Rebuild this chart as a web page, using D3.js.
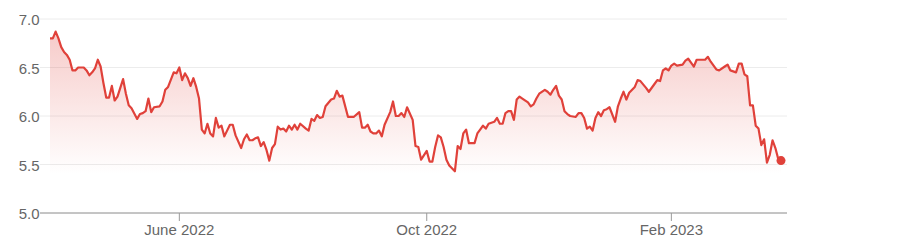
<!DOCTYPE html>
<html>
<head>
<meta charset="utf-8">
<script src="https://cdn.jsdelivr.net/npm/d3@7"></script>
<style>
  html, body { margin: 0; padding: 0; background: #fff; }
  svg { display: block; font-family: "Liberation Sans", Arial, Helvetica, sans-serif; }
</style>
</head>
<body>
<svg id="chart" width="904" height="250"></svg>
<script>
// Week start (Monday) for each row of daily closes (Mon..Fri); null = not read
const weekStarts = [
  "2022-03-28","2022-04-04","2022-04-11","2022-04-18","2022-04-25","2022-05-02","2022-05-09","2022-05-16",
  "2022-05-23","2022-05-30","2022-06-06","2022-06-13","2022-06-20","2022-06-27","2022-07-04","2022-07-11",
  "2022-07-18","2022-07-25","2022-08-01","2022-08-08","2022-08-15","2022-08-22","2022-08-29","2022-09-05",
  "2022-09-12","2022-09-19","2022-09-26","2022-10-03","2022-10-10","2022-10-17","2022-10-24","2022-10-31",
  "2022-11-07","2022-11-14","2022-11-21","2022-11-28","2022-12-05","2022-12-12","2022-12-19","2022-12-26",
  "2023-01-02","2023-01-09","2023-01-16","2023-01-23","2023-01-30","2023-02-06","2023-02-13","2023-02-20",
  "2023-02-27","2023-03-06","2023-03-13","2023-03-20","2023-03-27"
];
const closes = [
  [null,6.80,6.80,6.87,6.80],
  [6.71,6.66,6.63,6.58,6.47],
  [6.47,6.50,null,6.50,6.47],
  [6.42,6.45,6.49,6.58,6.51],
  [6.34,6.19,6.19,6.31,6.16],
  [6.20,6.29,6.38,6.23,6.11],
  [6.08,null,5.97,6.02,6.03],
  [6.05,6.18,6.04,6.09,null],
  [6.10,6.15,6.27,6.30,null],
  [6.45,6.44,6.50,6.37,6.44],
  [6.39,6.31,6.39,6.30,6.18],
  [5.86,5.82,5.92,5.82,5.79],
  [5.98,5.88,5.90,5.79,null],
  [5.91,5.91,5.80,null,5.67],
  [5.76,5.81,5.75,5.75,5.77],
  [5.78,5.69,5.73,5.65,5.54],
  [5.67,5.71,5.89,5.86,5.87],
  [5.84,5.90,5.86,5.91,5.86],
  [5.92,null,5.87,5.85,5.97],
  [5.95,6.01,5.98,5.99,6.10],
  [null,6.17,6.18,6.26,6.20],
  [6.21,null,5.99,5.99,5.99],
  [null,6.04,5.88,5.88,5.91],
  [5.84,5.82,5.82,5.85,5.79],
  [5.91,null,6.04,6.15,6.00],
  [6.00,6.03,5.99,6.09,null],
  [5.96,5.69,5.68,5.55,null],
  [5.64,5.53,5.53,5.68,5.80],
  [5.78,5.68,5.55,5.49,null],
  [5.43,5.69,5.66,5.82,5.86],
  [5.72,null,5.72,5.82,5.86],
  [5.90,5.87,5.92,null,5.94],
  [5.98,5.92,5.92,6.03,6.05],
  [6.05,5.96,6.17,6.20,6.18],
  [null,6.14,6.10,6.12,6.18],
  [6.23,null,6.27,6.25,6.22],
  [6.27,6.31,6.21,6.17,6.05],
  [6.02,6.00,null,5.99,6.03],
  [6.03,5.98,5.87,5.89,5.85],
  [5.98,6.04,6.00,6.06,6.07],
  [6.09,null,5.94,6.10,6.18],
  [6.25,6.17,6.24,null,6.30],
  [6.37,6.36,null,6.29,6.25],
  [null,6.33,6.37,6.36,6.47],
  [6.49,6.47,6.52,6.54,6.52],
  [null,6.53,6.57,6.59,6.55],
  [6.51,6.58,null,6.58,6.58],
  [6.61,6.56,null,6.48,6.47],
  [null,6.51,6.53,6.47,null],
  [6.45,6.54,6.54,6.43,6.41],
  [6.11,6.11,5.90,5.87,5.70],
  [5.76,5.52,5.60,5.75,5.67],
  [5.56,5.54]
];
const yTicks = [5.0, 5.5, 6.0, 6.5, 7.0];
const xTickDates = ["2022-06-01", "2022-10-03", "2023-02-01"];
const xTickLabels = ["June 2022", "Oct 2022", "Feb 2023"];

const parse = d3.timeParse("%Y-%m-%d");
const origin = parse(weekStarts[0]);
// trading-day (weekday) index relative to first trading day
function tradeIndex(date) {
  const w = d3.timeMonday.count(origin, date);
  const dow = (date.getDay() + 6) % 7; // Mon=0
  return w * 5 + Math.min(dow, 4) - 1;
}

const data = [];
weekStarts.forEach((ws, k) => {
  const start = parse(ws);
  closes[k].forEach((v, d) => {
    if (v == null) return;
    const date = d3.timeDay.offset(start, d);
    data.push({ date, idx: tradeIndex(date), value: v });
  });
});

const svg = d3.select("#chart");
const axisLeft = 40, axisRight = 787;
const x = d3.scaleLinear()
  .domain([0, d3.max(data, d => d.idx)])
  .range([50, 781]);
const y = d3.scaleLinear().domain([5, 7]).range([213, 19]);

// gridlines
svg.append("g").selectAll("line")
  .data(yTicks.filter(t => t > 5))
  .join("line")
  .attr("x1", axisLeft).attr("x2", axisRight)
  .attr("y1", d => y(d)).attr("y2", d => y(d))
  .attr("stroke", "#ececec").attr("stroke-width", 1);

// y labels
svg.append("g").selectAll("text")
  .data(yTicks)
  .join("text")
  .attr("x", 39.5).attr("y", d => y(d) + 1)
  .attr("dy", "0.35em")
  .attr("text-anchor", "end")
  .attr("font-size", 15)
  .attr("fill", "#666")
  .text(d => d.toFixed(1));

// gradient
const defs = svg.append("defs");
const grad = defs.append("linearGradient")
  .attr("id", "fillGrad")
  .attr("gradientUnits", "userSpaceOnUse")
  .attr("x1", 0).attr("x2", 0)
  .attr("y1", y(6.9)).attr("y2", y(5.4));
grad.append("stop").attr("offset", 0).attr("stop-color", "#e0413a").attr("stop-opacity", 0.28);
grad.append("stop").attr("offset", 1).attr("stop-color", "#e0413a").attr("stop-opacity", 0);

const area = d3.area()
  .x(d => x(d.idx))
  .y0(y(5))
  .y1(d => y(d.value));
svg.append("path").datum(data)
  .attr("d", area)
  .attr("fill", "url(#fillGrad)");

const line = d3.line()
  .x(d => x(d.idx))
  .y(d => y(d.value));
svg.append("path").datum(data)
  .attr("d", line)
  .attr("fill", "none")
  .attr("stroke", "#e0413a")
  .attr("stroke-width", 2.2)
  .attr("stroke-linejoin", "round");

// x axis
const xAxisG = svg.append("g");
xAxisG.append("line")
  .attr("x1", axisLeft).attr("x2", axisRight)
  .attr("y1", y(5)).attr("y2", y(5))
  .attr("stroke", "#8a8a8a").attr("stroke-width", 1);
const ticks = xTickDates.map((s, i) => ({ pos: x(tradeIndex(parse(s))), label: xTickLabels[i] }));
xAxisG.selectAll("line.tick")
  .data(ticks).join("line")
  .attr("class", "tick")
  .attr("x1", d => d.pos).attr("x2", d => d.pos)
  .attr("y1", y(5)).attr("y2", y(5) + 8)
  .attr("stroke", "#9a9a9a");
xAxisG.selectAll("text")
  .data(ticks).join("text")
  .attr("x", d => d.pos).attr("y", 234.5)
  .attr("text-anchor", "middle")
  .attr("font-size", 15)
  .attr("fill", "#666")
  .text(d => d.label);

// end dot
const last = data[data.length - 1];
svg.append("circle")
  .attr("cx", x(last.idx)).attr("cy", y(last.value))
  .attr("r", 4.5)
  .attr("fill", "#e0413a");
</script>
</body>
</html>
